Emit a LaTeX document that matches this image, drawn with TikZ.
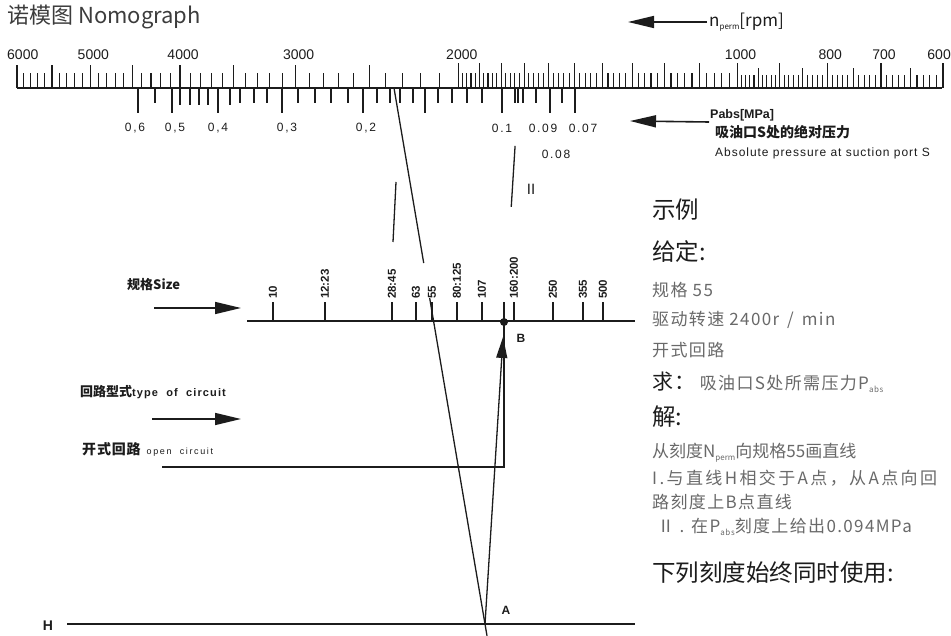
\documentclass[tikz,border=0pt]{standalone}
\usepackage{fontspec}
\setmainfont{Noto Sans CJK SC}
\newfontfamily\latinfont{Liberation Sans}
\usepackage{xcolor}
\definecolor{nomoink}{RGB}{28, 28, 28}
\definecolor{nomogray}{RGB}{105, 105, 105}
\definecolor{nomotitle}{RGB}{60, 60, 60}
\usetikzlibrary{arrows.meta,positioning,calc}
\newcommand\subtag[1]{\raisebox{-0.35ex}{\fontsize{8}{8}\selectfont #1}}

\begin{document}
\begin{tikzpicture}[x=1pt, y=-1pt,
    axisline/.style={line width=1.8pt, nomoink},
    tickline/.style={line width=1.1pt, nomoink},
    guide/.style={line width=1.3pt, nomoink},
    fatarrow/.style={line width=1.6pt, nomoink, -{Triangle[length=26pt,width=12pt]}},
    rpmlabel/.style={font=\latinfont\fontsize{14}{14}\selectfont, text=nomoink, inner sep=0pt},
    barlabel/.style={font=\latinfont\fontsize{12}{12}\selectfont\addfontfeature{LetterSpace=14}, text=nomoink, inner sep=0pt},
    sizelabel/.style={font=\latinfont\bfseries\fontsize{11.5}{11.5}\selectfont, text=nomoink, rotate=90, anchor=west, inner sep=0pt},
    sidenote/.style={font=\bfseries\fontsize{13}{13}\selectfont, text=nomoink, anchor=west, inner sep=1pt},
    headline/.style={font=\fontsize{23.5}{23.5}\selectfont, text=nomoink, anchor=west, inner sep=0pt},
    stepline/.style={font=\fontsize{17}{17}\selectfont\addfontfeature{LetterSpace=8}, text=nomogray, anchor=west, inner sep=0pt}]

    \useasboundingbox (0,0) rectangle (951,636);

    % Title
    \node[anchor=west, font=\fontsize{22}{22}\selectfont, text=nomotitle, inner sep=0pt] (title) at (7,17) {诺模图 Nomograph};

    % rpm scale
    \coordinate (rpm0) at (17,88);
    \coordinate (rpm1) at (942,88);
    \draw[axisline] (rpm0) -- (rpm1);
    \foreach \n in {6000,5900,...,2100} {
        \pgfmathsetmacro\xx{17+926*log10(6000/\n)}
        \pgfmathsetmacro\hh{ifthenelse(mod(\n,500)==0,23,15)}
        \draw[tickline] (\xx,88) -- ++(0,-\hh);
    }
    \foreach \n in {2000,1980,...,1020} {
        \pgfmathsetmacro\xx{17+926*log10(6000/\n)}
        \pgfmathsetmacro\hh{ifthenelse(mod(\n,100)==0,25,15)}
        \draw[tickline] (\xx,88) -- ++(0,-\hh);
    }
    \foreach \n in {1000,990,...,600} {
        \pgfmathsetmacro\xx{17+926*log10(6000/\n)}
        \pgfmathsetmacro\hh{ifthenelse(mod(\n,100)==0,25,ifthenelse(mod(\n,50)==0,20,13))}
        \draw[tickline] (\xx,88) -- ++(0,-\hh);
    }
    \node[rpmlabel, anchor=west] (r6000) at (7,55) {6000};
    \foreach \n in {5000,4000,3000,2000,1000,800,700} {
        \pgfmathsetmacro\xx{20+926*log10(6000/\n)}
        \node[rpmlabel] (r\n) at (\xx,55) {\n};
    }
    \node[rpmlabel, anchor=east] (r600) at (951,55) {600};

    % n_perm arrow
    \node[anchor=west, font=\fontsize{17}{17}\selectfont, text=nomoink, inner sep=2pt] (nperm) at (707,22) {n\subtag{perm}[rpm]};
    \coordinate (npermtip) at (628,22);
    \draw[fatarrow] (nperm.west) -- (npermtip);

    % pressure scale
    \foreach \x/\l in {138/25,155/15,172/25,180/17,190/17,199/17,208/17,218/25,230/17,
                       240/15,254/15,267/15,282/25,298/15,315/15,331/15,348/15,363/25,
                       377/15,390/15,400/15,413/15,425/25,438/15,452/15,467/15,482/15,
                       502/25,515/15,518/15,523/15,536/15,550/25,562/15,575/25} {
        \draw[tickline] (\x,88) -- ++(0,\l);
    }
    \foreach \x/\t in {135/{0,6},175/{0,5},218/{0,4},287/{0,3},366/{0,2},502/0.1,543/0.09,583/0.07} {
        \node[barlabel] (p\x) at (\x,128) {\t};
    }
    \node[barlabel] (p08) at (556,154) {0.08};

    % Pabs arrow and legend
    \node[anchor=south west, font=\latinfont\bfseries\fontsize{12.5}{12.5}\selectfont, text=nomoink, inner sep=1pt] (pabs) at (709,122) {Pabs[MPa]};
    \node[anchor=west, font=\bfseries\fontsize{14}{14}\selectfont, text=nomoink, inner sep=0pt] (pabscn) at (715,132) {吸油口S处的绝对压力};
    \node[anchor=west, font=\latinfont\fontsize{12}{12}\selectfont\addfontfeature{LetterSpace=8}, text=nomoink, inner sep=0pt] (pabsen) at (715,153) {Absolute pressure at suction port S};
    \coordinate (pabstip) at (630,121);
    \draw[fatarrow] (pabs.south west) -- (pabstip);

    % size scale
    \coordinate (sz0) at (247,321);
    \coordinate (sz1) at (635,321);
    \draw[axisline] (sz0) -- (sz1);
    \foreach \x/\t in {273/10,325/12:23,392/28:45,416/63,432/55,457/80:125,482/107,514/160:200,553/250,583/355,603/500} {
        \draw[tickline] (\x,321) -- ++(0,-19);
        \node[sizelabel] (size\x) at (\x,299) {\t};
    }
    \draw[tickline] (504,321) -- ++(0,-19);

    \node[sidenote] (sizelbl) at (126,285) {规格Size};
    \coordinate (sizetail) at (154,308);
    \coordinate (sizetip) at (241,308);
    \draw[fatarrow] (sizetail) -- (sizetip);

    % circuit
    \node[sidenote] (circlbl) at (79,392) {回路型式{\latinfont\fontsize{11}{11}\selectfont\addfontfeature{LetterSpace=10}type \ of \ circuit}};
    \coordinate (circtail) at (152,419);
    \coordinate (circtip) at (241,419);
    \draw[fatarrow] (circtail) -- (circtip);
    \node[sidenote] (openlbl) at (81,449) {{\fontsize{14}{14}\selectfont\addfontfeature{LetterSpace=6}开式回路}\ \ {\latinfont\mdseries\fontsize{9}{9}\selectfont\addfontfeature{LetterSpace=18}open \ circuit}};

    % construction lines
    \coordinate (n2400) at (394,88);
    \coordinate (A) at (485,624);
    \coordinate (B) at (504,322);
    \coordinate (oc) at (162,467);
    \coordinate (H0) at (67,624);
    \coordinate (H1) at (635,624);
    \coordinate (i1) at (396,182);
    \coordinate (i2) at (393,242);

    \draw[guide] (H0) -- (H1);
    \node[font=\latinfont\bfseries\fontsize{14}{14}\selectfont, text=nomoink] (hlbl) at (48,626) {H};

    \draw[guide] (n2400) -- ($(n2400)!0.3265!(A)$);
    \draw[guide] ($(n2400)!0.392!(A)$) -- ($(n2400)!1.022!(A)$);
    \draw[guide] (i1) -- (i2);

    \draw[guide] (oc) -- (oc -| B) -- (B);
    \draw[guide, -{Triangle[length=21pt,width=11pt]}, shorten >=15pt] (A) -- (B);
    \draw[guide] ($(A)!1.381!(B)$) -- ($(A)!1.583!(B)$);
    \node[circle, fill=nomoink, inner sep=0pt, minimum size=8pt] (bdot) at (B) {};

    \node[font=\latinfont\bfseries\fontsize{12}{12}\selectfont, text=nomoink] (alabel) at (506,610) {A};
    \node[font=\latinfont\bfseries\fontsize{12}{12}\selectfont, text=nomoink] (blabel) at (521,338) {B};
    \node[font=\latinfont\fontsize{15}{15}\selectfont, text=nomoink] (twolabel) at (531,189) {II};

    % Example text
    \node[headline] (ex) at (652,210) {示例};
    \node[headline] (given) at (652,252) {给定:};
    \node[stepline] (g1) at (652,290) {规格 55};
    \node[stepline] (g2) at (652,320) {驱动转速 2400r \,/\, min};
    \node[stepline] (g3) at (652,350) {开式回路};
    \node[stepline] (ask) at (652,382) {{\color{nomoink}\fontsize{21}{21}\selectfont 求：}\hspace{4pt}吸油口S处所需压力P\subtag{abs}};
    \node[headline] (solve) at (652,417) {解:};
    \node[stepline, font=\fontsize{17}{17}\selectfont] (s1) at (652,453) {从刻度N\subtag{perm}向规格55画直线};
    \node[stepline, font=\fontsize{17}{17}\selectfont\addfontfeature{LetterSpace=14}] (s2) at (652,478) {I.与直线H相交于A点，从A点向回};
    \node[stepline] (s3) at (652,502) {路刻度上B点直线};
    \node[stepline] (s4) at (652,527) {\ Ⅱ . 在P\subtag{abs}刻度上给出0.094MPa};
    \node[headline] (always) at (652,573) {下列刻度始终同时使用:};
\end{tikzpicture}
\end{document}
